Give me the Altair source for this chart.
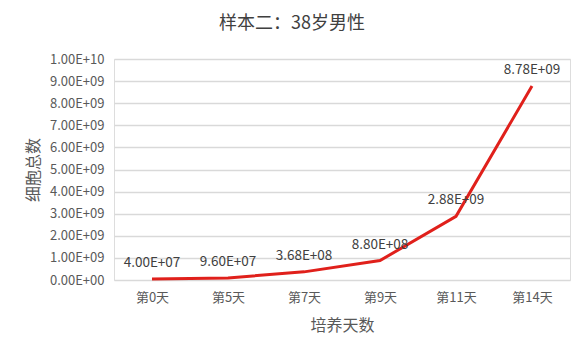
import altair as alt
import pandas as pd

days = ["第0天", "第5天", "第7天", "第9天", "第11天", "第14天"]
cells = [4.00e7, 9.60e7, 3.68e8, 8.80e8, 2.88e9, 8.78e9]
labels = ["4.00E+07", "9.60E+07", "3.68E+08", "8.80E+08", "2.88E+09", "8.78E+09"]

df = pd.DataFrame({"day": days, "cells": cells, "label": labels})

FONT = "Noto Sans CJK SC"

x = alt.X("day:N", sort=days, title="培养天数",
          scale=alt.Scale(paddingInner=0, paddingOuter=0.5),
          axis=alt.Axis(labelAngle=0, ticks=False, domain=False, labelPadding=11,
                        labelFontSize=13, labelColor="#595959", titleFontSize=16,
                        titleColor="#595959", titlePadding=13, titleFontWeight="normal",
                        labelFont=FONT, titleFont=FONT))
y = alt.Y("cells:Q", title="细胞总数",
          scale=alt.Scale(domain=[0, 1e10], nice=False),
          axis=alt.Axis(values=[i * 1e9 for i in range(11)],
                        labelExpr="replace(replace(format(datum.value, '.2e'), /e\\+(\\d)$/, 'E+0$1'), /e\\+/, 'E+')",
                        ticks=False, domain=False, labelPadding=10, grid=True,
                        gridColor="#D9D9D9", gridWidth=1.3,
                        labelFontSize=13, labelColor="#595959", titleFontSize=16,
                        titleColor="#595959", titlePadding=8, titleFontWeight="normal",
                        labelFont=FONT, titleFont=FONT))

line = alt.Chart(df).mark_line(color="#E0201B", strokeWidth=3).encode(x=x, y=y)
text = alt.Chart(df).mark_text(baseline="bottom", dy=-9, fontSize=13.5, color="#404040",
                               font=FONT).encode(x=x, y=y, text="label:N")

chart = (line + text).properties(
    width=456, height=221,
    autosize=alt.AutoSizeParams(type="none"),
    padding={"left": 114, "top": 59, "right": 18, "bottom": 74},
    title=alt.TitleParams("样本二：38岁男性", fontSize=18, font=FONT, color="#404040",
                          fontWeight="normal", anchor="middle", dx=-50, offset=20),
).configure_view(stroke=None).configure(background="white")

chart.save("out.html", embed_options={"renderer": "svg", "actions": False})
